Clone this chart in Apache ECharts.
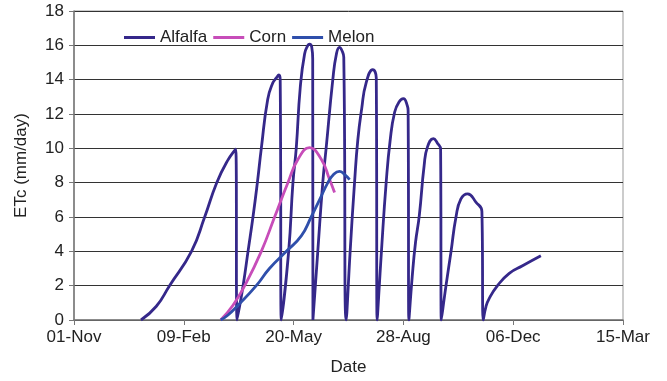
<!DOCTYPE html>
<html>
<head>
<meta charset="utf-8">
<script src="https://cdn.jsdelivr.net/npm/echarts@6/dist/echarts.min.js"></script>
<style>
  html, body { margin: 0; padding: 0; background: #fff; }
  #chart { width: 667px; height: 381px; }
</style>
</head>
<body>
<div id="chart"></div>
<script>
// x = days after 01-Nov, y = ETc (mm/day)
var dateLabels = ['01-Nov', '09-Feb', '20-May', '28-Aug', '06-Dec', '15-Mar'];

var alfalfaDays = [61, 75, 87, 107, 119, 130, 140, 147.3, 148.5,
    154, 158.5, 163, 167, 170.6, 176.4, 181, 184.3, 186.6, 187.8, 188.8,
    195.5, 199.4, 202.4, 206, 210, 213, 214.5, 216.5, 217.4, 217.6,
    222, 226.6, 229.7, 235.7, 239, 241.8, 244, 245.7, 247.9,
    251.5, 255.5, 258.5, 262, 266, 272.1, 275.3, 276.1,
    280, 284.3, 288, 292, 296, 300, 303.5, 304.3, 305,
    308, 311, 314.5, 318.9, 322, 327.3, 331, 333.9, 334.5,
    338.8, 343.4, 347.9, 352.4, 358.5, 366, 371.5, 372.7,
    375.2, 378.2, 385.7, 396.4, 408.5, 425.2];
var alfalfaEtc = [0, 0.8, 2, 4, 6, 8, 9.3, 9.95, 0,
    2, 4, 6, 8, 10, 12.85, 13.8, 14.1, 14.28, 14.0, 0,
    4, 8, 10, 13.5, 15.5, 16.0, 16.07, 15.9, 15.2, 0,
    3.97, 8.03, 10.05, 14, 15.5, 15.88, 15.7, 15.3, 0,
    4, 8, 10.5, 12.3, 13.8, 14.58, 14.1, 0,
    4, 8, 10.5, 12.1, 12.7, 12.89, 12.5, 12.2, 0,
    2.5, 4.5, 6.1, 9, 10.1, 10.57, 10.3, 9.95, 0,
    2, 4, 6, 7.05, 7.35, 6.87, 6.32, 0,
    0.78, 1.26, 2, 2.72, 3.16, 3.74];

var cornDays = [133.6, 144.8, 155.5, 170.6, 182.7, 194.8, 203.9, 214.5, 225.2, 232.7, 237.3];
var cornEtc = [0, 0.86, 2, 4, 6, 8, 9.35, 10.04, 9.36, 8.2, 7.43];

var melonDays = [133.6, 140.3, 149.4, 166, 178, 193.4, 207, 216, 223.6, 231.2, 236, 241.8, 246, 251];
var melonEtc = [0, 0.29, 0.86, 2, 3, 4, 4.9, 6, 7, 8, 8.45, 8.66, 8.5, 8.18];

function pairs(xs, ys) {
    return xs.map(function (x, i) { return [x, ys[i]]; });
}

var chart = echarts.init(document.getElementById('chart'));
var font = 'Liberation Sans, Arial, sans-serif';

function lineSeries(name, color, xs, ys) {
    return {
        name: name,
        type: 'line',
        data: pairs(xs, ys),
        symbol: 'none',
        smooth: 0.5,
        lineStyle: { color: color, width: 2.8 },
        itemStyle: { color: color }
    };
}

chart.setOption({
    animation: false,
    backgroundColor: '#fff',
    textStyle: { fontFamily: font },
    grid: {
        left: 74, top: 11, right: 44, bottom: 59,
        show: true, borderColor: '#999', borderWidth: 1
    },
    legend: {
        left: 119, top: 24, icon: 'rect',
        itemWidth: 31, itemHeight: 3, itemGap: 6,
        textStyle: { fontSize: 17, color: '#222', fontFamily: font },
        data: ['Alfalfa', 'Corn', 'Melon']
    },
    xAxis: {
        type: 'value', min: 0, max: 500, interval: 100,
        name: 'Date', nameLocation: 'middle', nameGap: 39,
        nameTextStyle: { fontSize: 17, color: '#222' },
        axisLine: { lineStyle: { color: '#777', width: 1.5 } },
        axisTick: { show: true, length: 5, lineStyle: { color: '#777' } },
        axisLabel: {
            fontSize: 17, color: '#222', margin: 9,
            formatter: function (v) { return dateLabels[Math.round(v / 100)]; }
        },
        splitLine: { show: false }
    },
    yAxis: {
        type: 'value', min: 0, max: 18, interval: 2,
        name: 'ETc (mm/day)', nameLocation: 'middle', nameGap: 44,
        nameTextStyle: { fontSize: 17, color: '#222' },
        axisLine: { show: true, lineStyle: { color: '#777', width: 1.5 } },
        axisTick: { show: true, length: 5, lineStyle: { color: '#777' } },
        axisLabel: { fontSize: 17, color: '#222', margin: 10 },
        splitLine: { lineStyle: { color: '#333', width: 1 } }
    },
    series: [
        lineSeries('Alfalfa', '#35288a', alfalfaDays, alfalfaEtc),
        lineSeries('Corn', '#c74db9', cornDays, cornEtc),
        lineSeries('Melon', '#2f4fab', melonDays, melonEtc)
    ]
});
</script>
</body>
</html>
